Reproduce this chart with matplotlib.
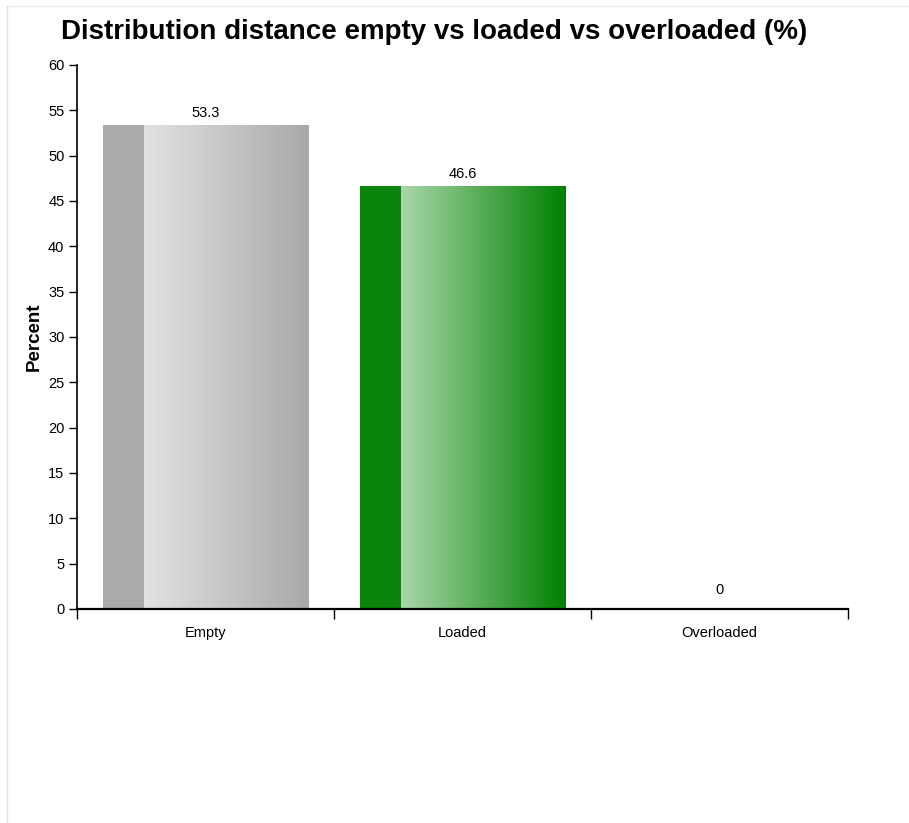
import matplotlib.pyplot as plt
import numpy as np
from matplotlib.colors import LinearSegmentedColormap
from matplotlib.lines import Line2D

plt.rcParams['font.family'] = ['Liberation Sans', 'DejaVu Sans']

categories = ["Empty", "Loaded", "Overloaded"]
values = [53.3, 46.6, 0]
value_labels = ["53.3", "46.6", "0"]
strip_colors = ["#aaaaaa", "#0a840a", "#0a840a"]
grad_start = ["#e2e2e2", "#a9d6a9", "#a9d6a9"]
grad_end = ["#a9a9a9", "#008000", "#008000"]

fig = plt.figure(figsize=(9.09, 8.23), dpi=100)
ax = fig.add_axes([77 / 909, 1 - 609 / 823, 771 / 909, 544 / 823])

pos = np.arange(len(categories)) + 0.5
bars = ax.bar(pos, values, width=0.8, color="none", edgecolor="none")

# gradient fill: darker strip on the left, then light -> dark
for b, sc, g0, g1 in zip(bars, strip_colors, grad_start, grad_end):
    x0 = b.get_x()
    w = b.get_width()
    h = b.get_height()
    if h <= 0:
        continue
    n = 500
    k = int(n * 0.2)
    grad = np.concatenate([np.full(k, -1.0), np.linspace(0, 1, n - k)]).reshape(1, -1)
    cmap = LinearSegmentedColormap.from_list("g", [g0, g1])
    cmap.set_under(sc)
    ax.imshow(grad, cmap=cmap, vmin=0, vmax=1, aspect="auto",
              extent=(x0, x0 + w, 0, h), zorder=2, interpolation="nearest")

for p, v, lab in zip(pos, values, value_labels):
    off = 4 if v > 0 else 9
    ax.annotate(lab, (p, v), xytext=(0, off), textcoords="offset points",
                ha="center", va="bottom", fontsize=10.5, color="#000000")

ax.set_xlim(0, 3)
ax.set_ylim(0, 60)
ax.set_yticks(np.arange(0, 61, 5))
ax.tick_params(axis="y", length=6, width=1, labelsize=10.5, pad=3)
ax.set_xticks([0, 1, 2, 3])
ax.set_xticklabels([])
ax.set_xticks(pos, minor=True)
ax.set_xticklabels(categories, minor=True)
ax.tick_params(axis="x", which="major", length=7, width=1, direction="out")
ax.tick_params(axis="x", which="minor", length=0, labelsize=10.5, pad=12)

for s in ["top", "right"]:
    ax.spines[s].set_visible(False)
ax.spines["left"].set_linewidth(1.2)
ax.spines["bottom"].set_linewidth(1.6)

ax.set_ylabel("Percent", fontsize=13.5, fontweight="bold", labelpad=4)

fig.text(434 / 909, 1 - 32 / 823, "Distribution distance empty vs loaded vs overloaded (%)",
         ha="center", va="center", fontsize=20, fontweight="bold")

# faint frame lines at top and left
fig.add_artist(Line2D([7 / 909, 1], [1 - 6 / 823, 1 - 6 / 823], color="#ececec", lw=1))
fig.add_artist(Line2D([7 / 909, 7 / 909], [0, 1 - 6 / 823], color="#e0e0e0", lw=1))

fig.savefig("out.png", dpi=100)
